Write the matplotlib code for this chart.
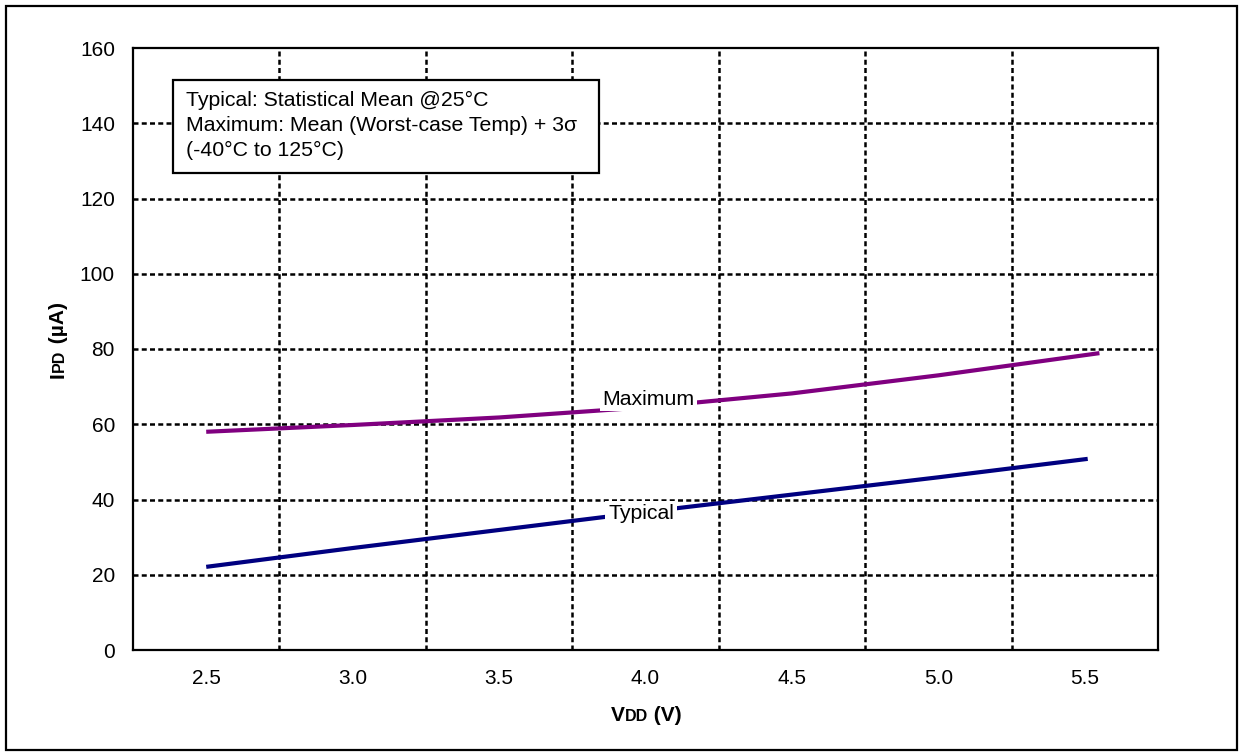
import matplotlib
matplotlib.use("Agg")
import matplotlib.pyplot as plt
from matplotlib.patches import Rectangle
from matplotlib.transforms import IdentityTransform

plt.rcParams['font.family'] = ['Liberation Sans', 'DejaVu Sans']

# data
vdd_max = [2.5, 3.0, 3.5, 4.0, 4.5, 5.0, 5.55]
ipd_max = [58.0, 59.8, 61.8, 64.5, 68.2, 73.0, 78.9]
vdd_typ = [2.5, 3.0, 3.5, 4.0, 4.5, 5.0, 5.51]
ipd_typ = [22.1, 27.1, 31.9, 36.7, 41.3, 45.9, 50.8]
x_ticks = [2.5, 3.0, 3.5, 4.0, 4.5, 5.0, 5.5]
y_ticks = [0, 20, 40, 60, 80, 100, 120, 140, 160]
note = "Typical: Statistical Mean @25°C\nMaximum: Mean (Worst-case Temp) + 3σ\n(-40°C to 125°C)"

W, H = 1243, 756
fs = 15.3
fig = plt.figure(figsize=(W / 100, H / 100), dpi=100)
ax = fig.add_axes([133 / W, 1 - 650 / H, (1158 - 133) / W, (650 - 48) / H])

ax.plot(vdd_max, ipd_max, color='#800080', lw=3, solid_capstyle='butt', zorder=3)
ax.plot(vdd_typ, ipd_typ, color='#000080', lw=3, solid_capstyle='butt', zorder=3)

ax.set_xlim(2.25, 5.75)
ax.set_ylim(0, 160)
ax.set_xticks(x_ticks)
ax.set_xticklabels([f"{v:.1f}" for v in x_ticks])
ax.set_yticks(y_ticks)
ax.tick_params(length=0, labelsize=15)
ax.tick_params(axis='x', pad=14)
ax.tick_params(axis='y', pad=13)

# dotted grid: vertical lines sit between the voltage labels
dots = dict(color='black', lw=1.8, ls=(0, (2.0, 1.3)), zorder=1)
for gx in [2.75, 3.25, 3.75, 4.25, 4.75, 5.25]:
    ax.axvline(gx, **dots)
for gy in y_ticks[1:-1]:
    ax.axhline(gy, **dots)

for s in ax.spines.values():
    s.set_linewidth(1.6)
    s.set_color('black')

# series labels on white patches
box = dict(facecolor='white', edgecolor='none', pad=2)
ax.text(4.01, 66.7, "Maximum", fontsize=fs, ha='center', va='center', bbox=box, zorder=4)
ax.text(3.985, 36.4, "Typical", fontsize=fs, ha='center', va='center', bbox=box, zorder=4)

# note box
ax.add_patch(Rectangle((2.387, 126.8), (598 - 173) / 292, 151.5 - 126.8,
                       facecolor='white', edgecolor='black', lw=1.6, zorder=5))
ax.text(2.43, 139.4, note, fontsize=fs, ha='left', va='center', linespacing=1.38, zorder=6)


def pieces(parts, x, y, rotation=0):
    # draws label text made of runs with different sizes along one baseline
    r = fig.canvas.get_renderer()
    items = []
    total = 0
    for s, size in parts:
        t = fig.text(0, 0, s, fontsize=size, fontweight='bold', rotation=rotation,
                     rotation_mode='anchor', ha='left', va='baseline',
                     transform=IdentityTransform())
        bb = t.get_window_extent(r)
        w = bb.height if rotation else bb.width
        items.append((t, w))
        total += w
    pos = -total / 2
    for t, w in items:
        if rotation:
            t.set_position((x, y + pos))
        else:
            t.set_position((x + pos, y))
        pos += w


pieces([("V", 15), ("DD", 11.5), (" (V)", 15)], 646, H - 721)
pieces([("I", 15), ("PD", 11.5), (" (µA)", 15)], 64, H - 340, rotation=90)

fig.patches.append(Rectangle((6 / W, 6 / H), (W - 12) / W, (H - 12) / H, fill=False,
                             edgecolor='black', lw=1.6, transform=fig.transFigure))

fig.savefig("out.png", dpi=100)
